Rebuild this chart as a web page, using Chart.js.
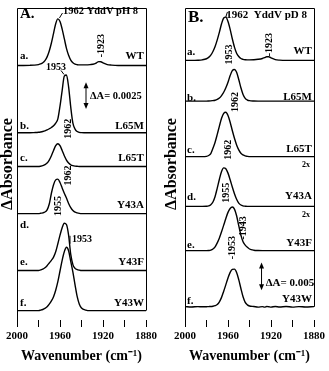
<!DOCTYPE html>
<html><head><meta charset="utf-8">
<script src="https://cdn.jsdelivr.net/npm/chart.js@4.4.1/dist/chart.umd.min.js"></script>
<style>
html,body{margin:0;padding:0;background:#fff;}
#wrap{position:relative;width:329px;height:371px;overflow:hidden;background:#fff;}
canvas{position:absolute;top:0;}
</style></head><body>
<div id="wrap"><canvas id="ca" width="164" height="371" style="left:0"></canvas><canvas id="cb" width="165" height="371" style="left:164px"></canvas></div>
<script>
// ---- data (wavenumber grid, cm-1) ----
const wavenumbers = [2000,1994,1988,1984,1980,1978,1976,1974,1972,1970,1968,1966,1964,1962,1960,1958,1956,1954,1952,1950,1948,1946,1944,1942,1940,1936,1932,1928,1926,1924,1922,1920,1916,1912,1906,1900,1894,1888,1880];
const xTicks = [2000,1960,1920,1880];
const samples = ['WT','L65M','L65T','Y43A','Y43F','Y43W'];
const letters = ['a.','b.','c.','d.','e.','f.'];
// Panel A: YddV pH 8, ΔAbsorbance in mOD
const phWT   = [0,0,0.01,0.03,0.08,0.14,0.25,0.45,0.8,1.35,2.1,3.0,3.9,4.35,4.1,3.4,2.5,1.6,0.95,0.5,0.25,0.12,0.07,0.05,0.05,0.05,0.08,0.15,0.25,0.36,0.35,0.24,0.08,0.03,0,0,0,0,0];
const phL65M = [0,0,0,0.02,0.05,0.08,0.12,0.18,0.27,0.38,0.5,0.65,0.9,1.3,2.5,3.95,5.3,5.4,4.3,2.4,0.9,0.35,0.12,0.04,0.02,0,0,0,0,0,0,0,0,0,0,0,0,0,0];
const phL65T = [0,0,0,0,0,0.03,0.08,0.17,0.32,0.6,1.0,1.5,1.95,2.13,1.95,1.5,1.0,0.6,0.32,0.16,0.08,0.04,0.02,0,0,0,0,0,0,0,0,0,0,0,0,0,0,0,0];
const phY43A = [0,0,0,0,0,0.03,0.07,0.15,0.35,0.9,1.9,2.7,3.15,3.22,2.9,2.4,1.9,1.45,0.95,0.55,0.28,0.13,0.06,0.02,0,0,0,0,0,0,0,0,0,0,0,0,0,0,0];
const phY43F = [0,0,0,0,0,0.05,0.12,0.25,0.45,0.7,0.95,1.25,1.75,2.5,3.3,4.0,4.42,4.3,3.3,1.5,0.55,0.2,0.08,0.03,0,0,0,0,0,0,0,0,0,0,0,0,0,0,0];
const phY43W = [0,0,0,0,0,0.04,0.1,0.2,0.35,0.6,0.9,1.3,1.9,2.7,3.7,4.7,5.5,5.92,5.6,4.6,3.6,2.4,1.3,0.6,0.25,0.05,0,0,0,0,0,0,0,0,0,0,0,0,0];
// Panel B: YddV pD 8
const pdWT   = [0,0,0.03,0.1,0.3,0.55,0.95,1.6,2.5,3.7,5.1,6.6,7.65,7.8,7.0,5.6,3.9,2.4,1.3,0.7,0.35,0.2,0.12,0.1,0.1,0.12,0.2,0.35,0.5,0.65,0.65,0.45,0.15,0.05,0,0,0,0,0];
const pdL65M = [0,0,0,0,0,0.02,0.05,0.1,0.15,0.3,0.55,1.0,1.6,2.4,3.4,4.6,5.5,5.7,5.2,3.9,2.4,1.2,0.5,0.2,0.08,0.02,0,0,0,0,0,0,0,0,0,0,0,0,0];
const pdL65T = [0,0,0,0,0.05,0.2,0.55,1.5,2.6,4.0,5.5,6.9,7.8,8.0,7.4,6.2,4.7,3.3,2.1,1.2,0.6,0.3,0.12,0.05,0,0,0,0,0,0,0,0,0,0,0,0,0,0,0];
const pdY43A = [0,0,0,0,0.03,0.1,0.3,0.8,1.8,3.3,4.9,6.3,6.95,6.8,6.0,4.8,3.5,2.3,1.3,0.6,0.25,0.1,0.04,0,0,0,0,0,0,0,0,0,0,0,0,0,0,0,0];
const pdY43F = [0,0,0,0,0,0.03,0.1,0.3,0.7,1.4,2.3,3.4,4.6,5.8,6.9,7.6,7.86,7.5,6.3,4.5,2.8,1.6,1.0,0.6,0.3,0.08,0.02,0,0,0,0,0,0,0,0,0,0,0,0];
const pdY43W = [0.03,-0.03,0.03,0,0.02,0.04,0.05,0.1,0.2,0.4,0.9,1.7,2.8,4.0,5.2,6.2,6.75,6.8,6.2,4.9,3.3,1.8,0.8,0.35,0.15,0.06,-0.06,0.03,-0.06,0.06,0,-0.06,0.06,-0.03,0.06,-0.06,0.03,-0.03,0.03];

// ---- layout (stacking offsets, mOD) ----
const offsetsA = [23.8, 17.5, 14.35, 9.95, 4.63, 0.88];
const offsetsB = [46.8, 39.46, 29.46, 20.48, 12.5, 2.38];
const FONT = 'Liberation Serif';

const annA = [
 {t:'A.', wn:1997.2, y:28.6, s:15, al:'left'},
 {t:'1962 YddV pH 8', wn:1957.2, y:28.84, s:10.5, al:'left'},
 {t:'-1923', wn:1921.9, y:25.65, s:10, rot:true},
 {t:'1953', wn:1963.7, y:23.6, s:10, al:'center'},
 {t:'ΔA= 0.0025', wn:1932.1, y:20.9, s:10.5, al:'left'},
 {t:'1962', wn:1952.1, y:17.87, s:10, rot:true},
 {t:'1962', wn:1952.1, y:13.52, s:10, rot:true},
 {t:'1955', wn:1961.4, y:10.65, s:10, rot:true},
 {t:'1953', wn:1948.8, y:7.55, s:10, al:'left'}
];
const leadA = [[1960.5,28.24,1957.7,28.7],[1959.1,23.33,1956.3,22.96],[1950.7,7.87,1950.7,7.13]];
const labelYA = [24.63, 18.15, 15.09, 10.74, 5.37, 1.62];
const letterYA = [24.63, 18.15, 15.09, 8.84, 5.37, 1.57];

const annB = [
 {t:'B.', wn:1997.2, y:54.46, s:17, al:'left'},
 {t:'1962  YddV pD 8', wn:1961.6, y:55.0, s:11, al:'left'},
 {t:'-1923', wn:1921.3, y:49.64, s:10, rot:true},
 {t:'1953', wn:1958.8, y:47.86, s:10, rot:true},
 {t:'1962', wn:1952.7, y:39.29, s:10, rot:true},
 {t:'1962', wn:1959.7, y:30.71, s:10, rot:true},
 {t:'2x', wn:1883.8, y:27.95, s:8, al:'right'},
 {t:'1955', wn:1961.1, y:22.95, s:10, rot:true},
 {t:'2x', wn:1883.8, y:19.02, s:8, al:'right'},
 {t:'-1943', wn:1945.6, y:16.61, s:10, rot:true},
 {t:'-1953', wn:1956.0, y:13.04, s:10, rot:true},
 {t:'ΔA= 0.005', wn:1925.0, y:6.7, s:11, al:'left'}
];
const leadB = [[1962.0,54.64,1960.6,55.5]];
const labelYB = [48.4, 40.18, 30.89, 22.32, 13.93, 3.84];
const letterYB = [48.2, 40.0, 30.54, 22.14, 13.57, 3.39];

function makeChart(id, series, offsets, yMax, padR, titlePadB, ann, leads, labelY, letterY, bar, letterWn) {
  const datasets = series.map((vals, k) => ({
    data: wavenumbers.map((w, i) => ({x: w, y: vals[i] + offsets[k]})),
    borderColor: '#000', borderWidth: 1.4, pointRadius: 0, fill: false,
    cubicInterpolationMode: 'monotone'
  }));
  const deco = {
    id: 'deco',
    afterDatasetsDraw(chart) {
      const {ctx, chartArea: ca, scales: {x, y}} = chart;
      ctx.save();
      ctx.strokeStyle = '#000'; ctx.fillStyle = '#000'; ctx.lineWidth = 1;
      // frame
      const yb = y.getPixelForValue(offsets[offsets.length - 1]);
      ctx.beginPath();
      ctx.moveTo(Math.round(ca.left) + 0.5, ca.bottom + 7);
      ctx.lineTo(Math.round(ca.left) + 0.5, Math.round(ca.top) + 0.5);
      ctx.lineTo(Math.round(ca.right) + 0.5, Math.round(ca.top) + 0.5);
      ctx.lineTo(Math.round(ca.right) + 0.5, yb);
      ctx.stroke();
      // leaders
      leads.forEach(l => {
        ctx.beginPath();
        ctx.moveTo(x.getPixelForValue(l[0]), y.getPixelForValue(l[1]));
        ctx.lineTo(x.getPixelForValue(l[2]), y.getPixelForValue(l[3]));
        ctx.stroke();
      });
      // scale bar
      const bx = x.getPixelForValue(bar[0]);
      const b0 = y.getPixelForValue(bar[1]), b1 = y.getPixelForValue(bar[2]);
      ctx.beginPath(); ctx.moveTo(bx, b0 - 4); ctx.lineTo(bx, b1 + 4); ctx.stroke();
      ctx.beginPath(); ctx.moveTo(bx, b1); ctx.lineTo(bx - 2.5, b1 + 6); ctx.lineTo(bx + 2.5, b1 + 6); ctx.closePath(); ctx.fill();
      ctx.beginPath(); ctx.moveTo(bx, b0); ctx.lineTo(bx - 2.5, b0 - 6); ctx.lineTo(bx + 2.5, b0 - 6); ctx.closePath(); ctx.fill();
      // labels
      ctx.textBaseline = 'middle';
      const txt = (t, px, py, s, al, rot) => {
        ctx.font = 'bold ' + s + 'px "' + FONT + '"';
        if (rot) {
          ctx.save(); ctx.translate(px, py); ctx.rotate(-Math.PI / 2);
          ctx.textAlign = 'center'; ctx.fillText(t, 0, 0); ctx.restore();
        } else { ctx.textAlign = al; ctx.fillText(t, px, py); }
      };
      samples.forEach((s, k) => {
        txt(s, x.getPixelForValue(1881.9), y.getPixelForValue(labelY[k]), 11, 'right');
        txt(letters[k], x.getPixelForValue(letterWn), y.getPixelForValue(letterY[k]), 11, 'left');
      });
      ann.forEach(a => txt(a.t, x.getPixelForValue(a.wn), y.getPixelForValue(a.y), a.s, a.al || 'center', a.rot));
      ctx.restore();
    }
  };
  return new Chart(document.getElementById(id), {
    type: 'line',
    data: {datasets},
    plugins: [deco],
    options: {
      responsive: false, animation: false, devicePixelRatio: 1,
      layout: {padding: {left: 0, right: padR, top: 8, bottom: 6}},
      plugins: {legend: {display: false}, tooltip: {enabled: false}},
      scales: {
        x: {
          type: 'linear', reverse: true, min: 1880, max: 2000,
          afterFit: s => { s.paddingLeft = 0; s.paddingRight = 0; },
          border: {display: false},
          grid: {drawOnChartArea: false, drawTicks: true, tickLength: 7, tickColor: '#000', tickWidth: 1},
          ticks: {stepSize: 20, autoSkip: false, maxRotation: 0, padding: 3, color: '#000',
                  font: {family: FONT, size: 11, weight: 'bold'},
                  callback: v => xTicks.includes(v) ? String(v) : ''},
          title: {display: true, text: 'Wavenumber (cm⁻¹)', color: '#000',
                  font: {family: FONT, size: 14, weight: 'bold'}, padding: {top: 2, bottom: 0}}
        },
        y: {
          min: 0, max: yMax, border: {display: false},
          grid: {display: false, drawTicks: false, tickLength: 0}, ticks: {display: false},
          title: {display: true, text: 'ΔAbsorbance', color: '#000',
                  font: {family: FONT, size: 16, weight: 'bold', lineHeight: 1.0}, padding: {top: 0, bottom: titlePadB}}
        }
      }
    }
  });
}

makeChart('ca', [phWT, phL65M, phL65T, phY43A, phY43F, phY43W], offsetsA, 29.17, 18, 1,
          annA, leadA, labelYA, letterYA, [1935.8, 19.72, 22.22], 1997.2);
makeChart('cb', [pdWT, pdL65M, pdL65T, pdY43A, pdY43F, pdY43W], offsetsB, 56.25, 15, 5,
          annB, leadB, labelYB, letterYB, [1928.8, 5.36, 10.36], 1998.1);
</script>
</body></html>
